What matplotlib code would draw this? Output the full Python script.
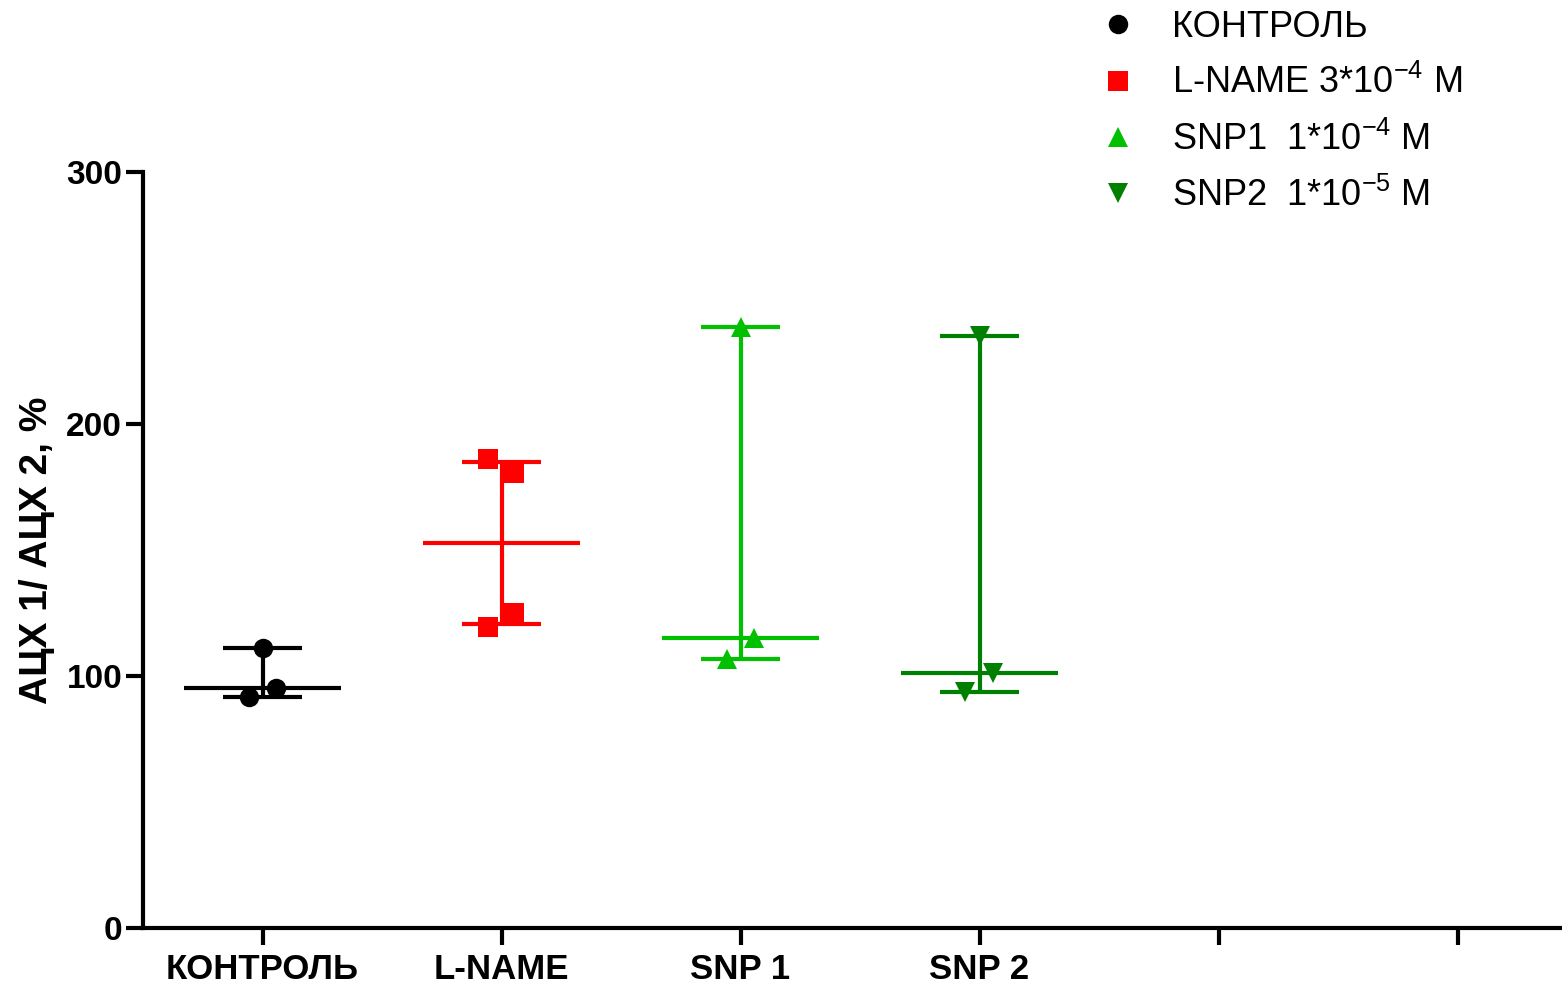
import numpy as np
import matplotlib
matplotlib.use("Agg")
import matplotlib.pyplot as plt
from matplotlib.lines import Line2D

plt.rcParams['font.family'] = ['Liberation Sans', 'DejaVu Sans']
plt.rcParams['mathtext.default'] = 'regular'

# data
groups = ["КОНТРОЛЬ", "L-NAME", "SNP 1", "SNP 2"]
kontrol = [111.1, 95.2, 91.7]
lname = [186.1, 180.6, 119.4, 125.0]
snp1 = [238.5, 115.1, 106.7]
snp2 = [235.0, 101.0, 93.6]
legend_labels = ["КОНТРОЛЬ", "L-NAME 3*10$^{-4}$ M",
                 "SNP1  1*10$^{-4}$ M", "SNP2  1*10$^{-5}$ M"]
y_label = "АЦХ 1/ АЦХ 2, %"

values = [kontrol, lname, snp1, snp2]
colors = ["black", "#ff0000", "#00c000", "#008000"]
markers = ["o", "s", "^", "v"]
# horizontal scatter of points (prism-style jitter)
jitter = [[0.0, 0.057, -0.058],
          [-0.058, 0.054, -0.058, 0.054],
          [0.0, 0.057, -0.056],
          [0.0, 0.058, -0.062]]

fig = plt.figure(figsize=(15.62, 9.84), dpi=100)
ax = fig.add_axes([143 / 1562, 1 - 928 / 984, 1419 / 1562, 756 / 984])

for i, vals in enumerate(values):
    vals = np.array(vals)
    med = np.median(vals)
    q1, q3 = np.percentile(vals, [25, 75], method="weibull")
    c = colors[i]
    ax.plot([i - 0.33, i + 0.33], [med, med], color=c, lw=3, solid_capstyle="butt", zorder=2)
    ax.plot([i, i], [q1, q3], color=c, lw=3, solid_capstyle="butt", zorder=2)
    for q in (q1, q3):
        ax.plot([i - 0.165, i + 0.165], [q, q], color=c, lw=3, solid_capstyle="butt", zorder=2)
    ax.plot(i + np.array(jitter[i]), vals, ls="none", marker=markers[i],
            color=c, ms=14, mew=0, zorder=3)

ax.set_xlim(-0.5, 5.437)
ax.set_ylim(0, 300)
ax.set_yticks([0, 100, 200, 300])
ax.set_xticks(range(6))
ax.set_xticklabels(groups + ["", ""], fontsize=25, fontweight="bold")
for lab in ax.get_yticklabels():
    lab.set_fontsize(24)
    lab.set_fontweight("bold")
ax.tick_params(axis="both", width=3, length=12, direction="out", color="black")
ax.tick_params(axis="x", pad=6)
ax.tick_params(axis="y", pad=3)
for s in ["top", "right"]:
    ax.spines[s].set_visible(False)
for s in ["left", "bottom"]:
    ax.spines[s].set_linewidth(3)
ax.set_ylabel(y_label, fontsize=28, fontweight="bold", labelpad=8)

handles = [Line2D([], [], ls="none", marker=markers[i], color=colors[i], ms=14, mew=0)
           for i in range(4)]
fig.legend(handles, legend_labels, loc="upper left", bbox_to_anchor=(1078 / 1562, 1.012),
           frameon=False, fontsize=26, handletextpad=1.0, labelspacing=0.56,
           handlelength=1.0, borderaxespad=0.2)

fig.savefig("out.png", dpi=100)
